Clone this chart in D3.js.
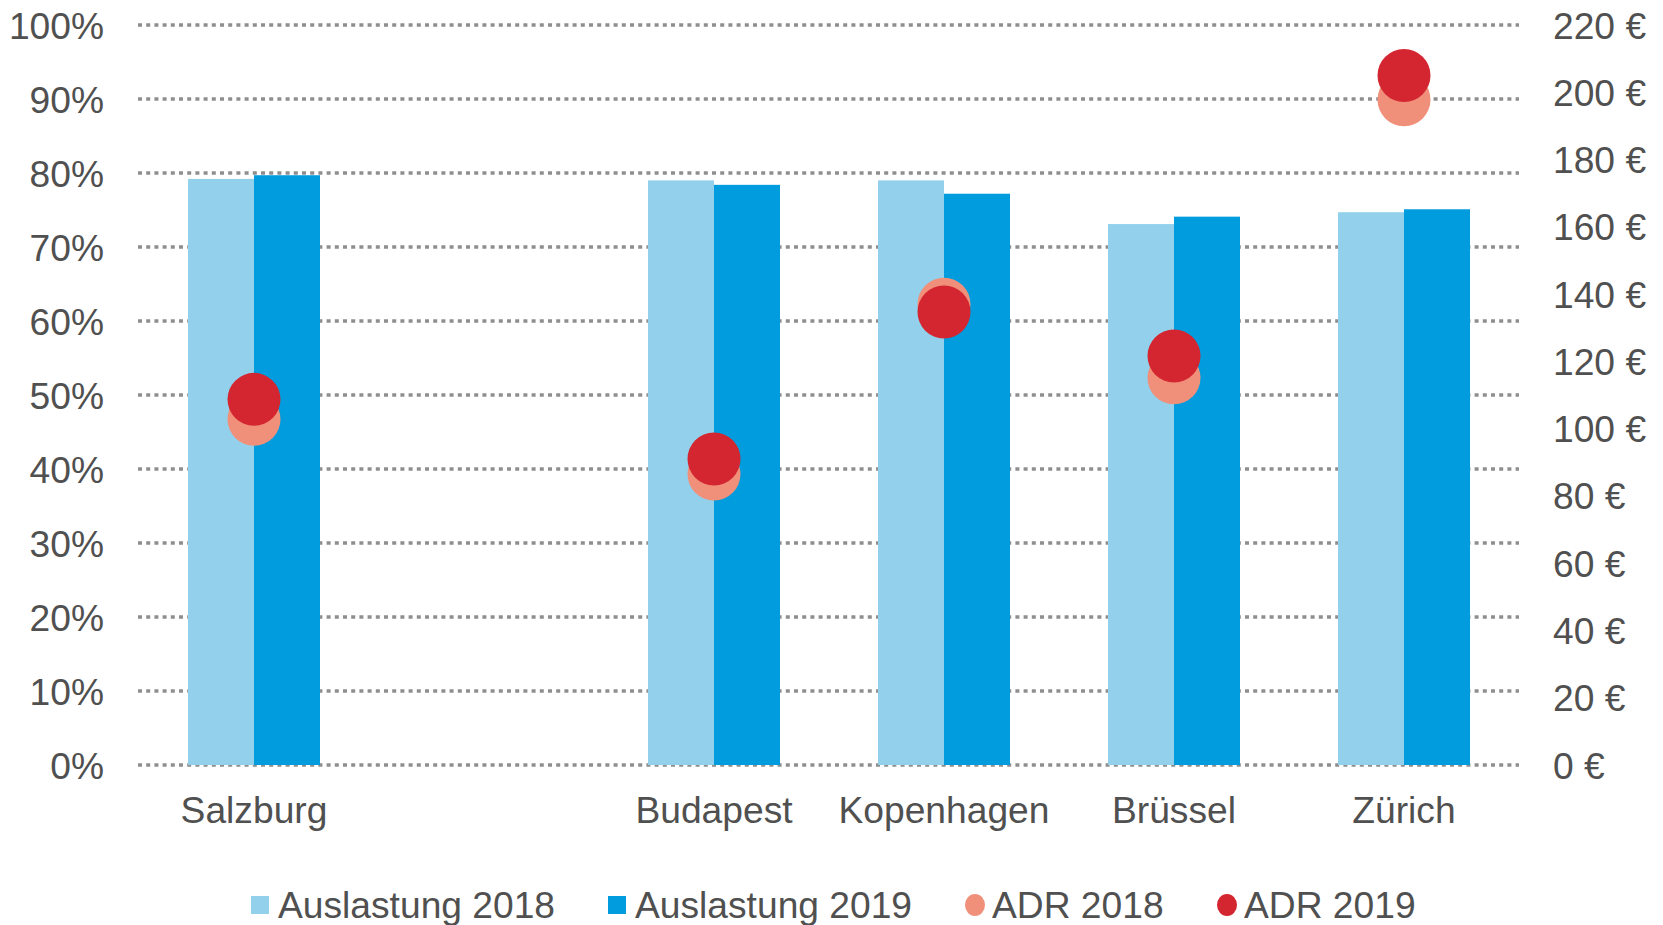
<!DOCTYPE html>
<html>
<head>
<meta charset="utf-8">
<script src="https://cdn.jsdelivr.net/npm/d3@7"></script>
<style>
  html, body { margin: 0; padding: 0; background: #fff; }
  svg { display: block; font-family: "Liberation Sans", Arial, sans-serif; }
</style>
</head>
<body>
<svg id="chart" width="1663" height="925"></svg>
<script>
// ---- data ----
const categories = ["Salzburg", "", "Budapest", "Kopenhagen", "Brüssel", "Zürich"];
const auslastung2018 = [0.792, null, 0.790, 0.790, 0.731, 0.747];
const auslastung2019 = [0.797, null, 0.784, 0.772, 0.741, 0.751];
const adr2018 = [102.8, null, 86.5, 137.0, 115.1, 197.8];
const adr2019 = [108.7, null, 91.0, 134.7, 121.6, 205.0];
const leftTicks = [0, 0.1, 0.2, 0.3, 0.4, 0.5, 0.6, 0.7, 0.8, 0.9, 1.0];
const rightTicks = [0, 20, 40, 60, 80, 100, 120, 140, 160, 180, 200, 220];
const seriesNames = ["Auslastung 2018", "Auslastung 2019", "ADR 2018", "ADR 2019"];
const colors = ["#92d0eb", "#009cdd", "#f0907b", "#d42630"];

// ---- layout ----
const svg = d3.select("#chart");
const plotLeft = 139, plotRight = 1519, plotTop = 25, plotBottom = 765;
const textColor = "#505050";
const fontSize = 37.2;

const x = d3.scaleBand().domain(d3.range(categories.length))
  .range([plotLeft, plotRight]).paddingInner(0.426).paddingOuter(0.213);
const xs = d3.scaleBand().domain([0, 1]).range([0, x.bandwidth()]);
const y = d3.scaleLinear().domain([0, 1]).range([plotBottom, plotTop]);
const y2 = d3.scaleLinear().domain([0, 220]).range([plotBottom, plotTop]);

// grid lines
svg.append("g").selectAll("line").data(leftTicks).join("line")
  .attr("x1", plotLeft - 1).attr("x2", plotRight)
  .attr("y1", d => y(d)).attr("y2", d => y(d))
  .attr("stroke", "#8e8e8e").attr("stroke-width", 3.5)
  .attr("stroke-dasharray", "4,4.2");

// left axis
const leftAxis = svg.append("g").attr("transform", `translate(${plotLeft - 35},0)`)
  .call(d3.axisLeft(y).tickValues(leftTicks).tickSize(0).tickPadding(0)
    .tickFormat(d => Math.round(d * 100) + "%"));
leftAxis.select(".domain").remove();
leftAxis.selectAll("text").attr("fill", textColor).attr("font-size", fontSize)
  .attr("font-family", "Liberation Sans, Arial, sans-serif").attr("dy", "0.35em");

// right axis
const rightAxis = svg.append("g").attr("transform", `translate(${plotRight + 34},0)`)
  .call(d3.axisRight(y2).tickValues(rightTicks).tickSize(0).tickPadding(0)
    .tickFormat(d => d + " €"));
rightAxis.select(".domain").remove();
rightAxis.selectAll("text").attr("fill", textColor).attr("font-size", fontSize)
  .attr("font-family", "Liberation Sans, Arial, sans-serif").attr("dy", "0.35em");

// bars
const barSeries = [auslastung2018, auslastung2019];
barSeries.forEach((vals, si) => {
  svg.append("g").selectAll("rect")
    .data(vals.map((v, i) => ({ v, i })).filter(d => d.v != null))
    .join("rect")
    .attr("x", d => x(d.i) + xs(si))
    .attr("width", xs.bandwidth())
    .attr("y", d => y(d.v))
    .attr("height", d => y(0) - y(d.v))
    .attr("fill", colors[si]);
});

// dots
const dotSeries = [adr2018, adr2019];
dotSeries.forEach((vals, si) => {
  svg.append("g").selectAll("circle")
    .data(vals.map((v, i) => ({ v, i })).filter(d => d.v != null))
    .join("circle")
    .attr("cx", d => x(d.i) + x.bandwidth() / 2)
    .attr("cy", d => y2(d.v))
    .attr("r", 26.5)
    .attr("fill", colors[si + 2]);
});

// category labels
svg.append("g").selectAll("text").data(categories.map((c, i) => ({ c, i })).filter(d => d.c))
  .join("text")
  .attr("x", d => x(d.i) + x.bandwidth() / 2)
  .attr("y", 823)
  .attr("text-anchor", "middle")
  .attr("fill", textColor).attr("font-size", fontSize)
  .text(d => d.c);

// legend
const legendItems = [
  { name: seriesNames[0], color: colors[0], shape: "rect", x: 251 },
  { name: seriesNames[1], color: colors[1], shape: "rect", x: 608 },
  { name: seriesNames[2], color: colors[2], shape: "circle", x: 965 },
  { name: seriesNames[3], color: colors[3], shape: "circle", x: 1217 }
];
const lg = svg.append("g").selectAll("g").data(legendItems).join("g")
  .attr("transform", d => `translate(${d.x},0)`);
lg.filter(d => d.shape === "rect").append("rect")
  .attr("x", 0).attr("y", 896).attr("width", 18).attr("height", 18)
  .attr("fill", d => d.color);
lg.filter(d => d.shape === "circle").append("ellipse")
  .attr("cx", 10).attr("cy", 905).attr("rx", 10).attr("ry", 11)
  .attr("fill", d => d.color);
lg.append("text")
  .attr("x", 27).attr("y", 918)
  .attr("fill", textColor).attr("font-size", fontSize)
  .text(d => d.name);
</script>
</body>
</html>
